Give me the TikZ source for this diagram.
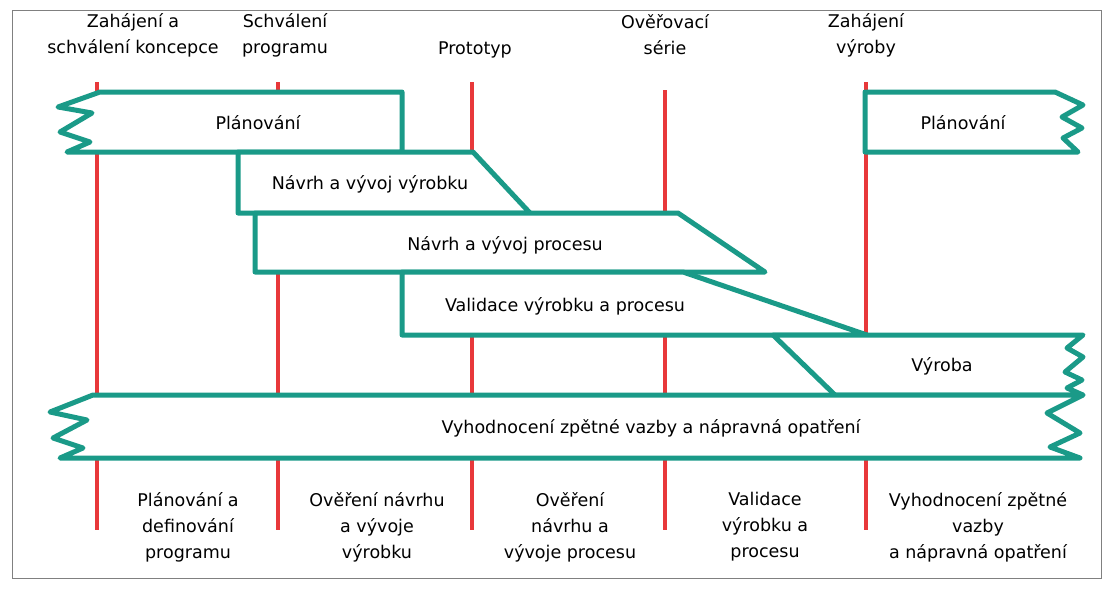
\documentclass[tikz,border=0pt]{standalone}
\usepackage{fontspec}
\setmainfont{DejaVu Sans}
\usetikzlibrary{positioning}
\definecolor{tealc}{HTML}{1A9A88}
\definecolor{redc}{HTML}{E8383A}

\begin{document}
\begin{tikzpicture}[
    x=1pt, y=-1pt,
    phase/.style={draw=tealc, line width=5pt, fill=white, line join=round},
    milestone/.style={draw=redc, line width=4pt},
    lbl/.style={font=\fontsize{17.5}{26}\selectfont, align=center, text=black}
]
\useasboundingbox (0,0) rectangle (1116,592);
\draw[gray, line width=0.8pt] (12,10) rectangle (1101,578);

% milníky
\foreach \x/\t in {97/82, 278/82, 472/82, 665/90, 866/82}
    \draw[milestone] (\x,\t) -- (\x,530);

% fáze
\draw[phase] (100,92) -- (402,92) -- (402,152) -- (67,152) -- (90,142) -- (60,132) -- (92,113) -- (58,107) -- cycle;
\draw[phase] (865,92) -- (1055,92) -- (1083,105) -- (1062,117) -- (1082,128) -- (1063,138) -- (1078,152) -- (865,152) -- cycle;
\draw[phase] (238,152) -- (473,152) -- (530,213) -- (238,213) -- cycle;
\draw[phase] (255,213) -- (678,213) -- (765,272) -- (255,272) -- cycle;
\draw[phase] (402,272) -- (683,272) -- (867,335) -- (402,335) -- cycle;
\draw[phase] (773,335) -- (1083,335) -- (1067,348) -- (1083,357) -- (1065,372) -- (1082,380) -- (1067,388) -- (1083,395) -- (835,395) -- cycle;
\draw[phase] (93,395) -- (1083,395) -- (1047,413) -- (1080,433) -- (1050,447) -- (1080,458) -- (60,458) -- (83,448) -- (53,438) -- (87,420) -- (50,412) -- cycle;

% texty fází
\node[lbl] (plan1) at (258,123) {Plánování};
\node[lbl] (plan2) at (963,123) {Plánování};
\node[lbl] (vyrobek) at (370,184) {Návrh a vývoj výrobku};
\node[lbl] (proces) at (505,245) {Návrh a vývoj procesu};
\node[lbl] (valid) at (565,306) {Validace výrobku a procesu};
\node[lbl] (vyroba) at (942,366) {Výroba};
\node[lbl] (zpetna) at (651,428) {Vyhodnocení zpětné vazby a nápravná opatření};

% milníky nahoře
\node[lbl] (m1) at (133,35) {Zahájení a\\schválení koncepce};
\node[lbl] (m2) at (285,35) {Schválení\\programu};
\node[lbl] (m3) at (475,50) {Prototyp};
\node[lbl] (m4) at (665,35) {Ověřovací\\série};
\node[lbl] (m5) at (866,35) {Zahájení\\výroby};

% etapy dole
\node[lbl] (e1) at (188,527) {Plánování a\\definování\\programu};
\node[lbl] (e2) at (377,527) {Ověření návrhu\\a vývoje\\výrobku};
\node[lbl] (e3) at (570,527) {Ověření\\návrhu a\\vývoje procesu};
\node[lbl] (e4) at (765,527) {Validace\\výrobku a\\procesu};
\node[lbl] (e5) at (978,527) {Vyhodnocení zpětné\\vazby\\a nápravná opatření};
\end{tikzpicture}
\end{document}
